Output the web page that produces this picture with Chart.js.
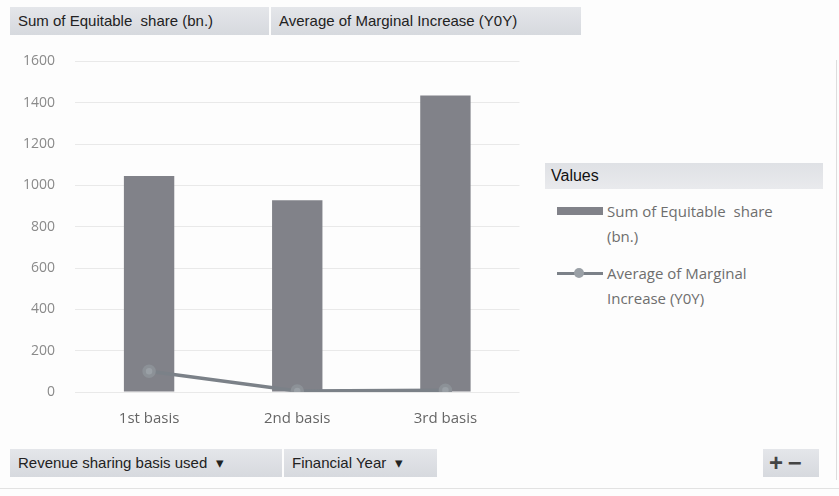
<!DOCTYPE html>
<html>
<head>
<meta charset="utf-8">
<script src="https://cdn.jsdelivr.net/npm/chart.js@4.4.1/dist/chart.umd.min.js"></script>
<style>
    html, body { margin: 0; padding: 0; background: #fdfdfd; }
    #wrap { position: relative; width: 839px; height: 496px; overflow: hidden; font-family: 'Liberation Sans Narrow', 'Liberation Sans', sans-serif; }
    .btn {
        position: absolute; height: 28px; line-height: 28px; font-size: 15px; color: #222;
        background: linear-gradient(#e4e6ea, #d6d9de); padding: 0 8px; box-sizing: border-box;
    }
    #plot { position: absolute; left: 0; top: 33px; width: 528px; height: 401px; }
    #legend { position: absolute; left: 545px; top: 163px; width: 278px; font-family: 'Open Sans', sans-serif; }
    #legend .head { height: 26px; line-height: 26px; padding-left: 6px; font-family: 'Liberation Sans Narrow', sans-serif; font-size: 16px; color: #111; background: linear-gradient(#dfe1e5, #e9eaed); }
    #legend .item { position: relative; padding-left: 62px; margin-top: 10px; font-size: 15px; line-height: 25px; color: #6e6e6e; }
    #legend .sw { position: absolute; left: 12px; }
    .edge { position: absolute; right: 2px; top: 60px; width: 1px; height: 420px; background: #ddd; }
    .foot { position: absolute; left: 0; top: 488px; width: 839px; height: 1px; background: #e2e2e2; }
</style>
</head>
<body>
<div id="wrap">
    <div class="btn" style="left:10px; top:7px; width:259px;">Sum of Equitable&nbsp; share (bn.)</div>
    <div class="btn" style="left:271px; top:7px; width:310px;">Average of Marginal Increase (Y0Y)</div>
    <div id="plot"><canvas id="c"></canvas></div>
    <div id="legend"></div>
    <div class="btn" style="left:10px; top:449px; width:272px;">Revenue sharing basis used &nbsp;&#9662;</div>
    <div class="btn" style="left:284px; top:449px; width:153px;">Financial Year &nbsp;&#9662;</div>
    <div class="btn" style="left:763px; top:449px; width:56px; font-size:24px; font-weight:bold; color:#444; padding:0 6px;">+&thinsp;&minus;</div>
    <div class="edge"></div>
    <div class="foot"></div>
</div>
<script>
const categories = ['1st basis', '2nd basis', '3rd basis'];
const equitableShare = [1045, 928, 1435];
const marginalIncrease = [100, 5, 8];
const yTicks = [0, 200, 400, 600, 800, 1000, 1200, 1400, 1600];

const BAR = '#818289';
const LINE = '#7b8188';

const chart = new Chart(document.getElementById('c'), {
    data: {
        labels: categories,
        datasets: [
            {
                type: 'line',
                label: 'Average of Marginal Increase (Y0Y)',
                data: marginalIncrease,
                borderColor: LINE,
                borderWidth: 3.5,
                pointRadius: 5,
                pointBackgroundColor: '#9aa0a6',
                pointBorderColor: '#8c9197',
                tension: 0,
                order: 0,
            },
            {
                type: 'bar',
                label: 'Sum of Equitable  share (bn.)',
                data: equitableShare,
                backgroundColor: BAR,
                barPercentage: 0.34,
                categoryPercentage: 1,
                order: 1,
            },
        ],
    },
    options: {
        responsive: true,
        maintainAspectRatio: false,
        animation: false,
        layout: { padding: { top: 4, right: 2 } },
        plugins: { legend: { display: false }, tooltip: { enabled: false } },
        scales: {
            x: {
                grid: { display: false },
                border: { display: false },
                ticks: { color: '#666', font: { family: 'Open Sans', size: 15 }, padding: 10 },
                afterFit: (s) => { s.height = 42; },
            },
            y: {
                min: 0,
                max: 1600,
                afterBuildTicks: (s) => { s.ticks = yTicks.map((v) => ({ value: v })); },
                grid: { color: '#e9e9e9', drawTicks: false },
                border: { display: false },
                ticks: { color: '#8a8a8a', font: { family: 'Open Sans', size: 14 }, padding: 20, callback: (v) => String(v) },
                afterFit: (s) => { s.width = 75; },
            },
        },
    },
});

// legend built from the chart's datasets
const bar = chart.data.datasets[1], line = chart.data.datasets[0];
document.getElementById('legend').innerHTML =
    '<div class="head">Values</div>' +
    '<div class="item"><span class="sw" style="top:8px;width:46px;height:8px;background:' + bar.backgroundColor + '"></span>' +
    'Sum of Equitable&nbsp; share<br>(bn.)</div>' +
    '<div class="item" style="margin-top:12px"><span class="sw" style="top:11px;width:46px;height:3px;background:' + line.borderColor + '">' +
    '<span style="position:absolute;left:17px;top:-4px;width:10px;height:10px;border-radius:50%;background:#9aa0a6"></span></span>' +
    'Average of Marginal<br>Increase (Y0Y)</div>';
</script>
</body>
</html>
